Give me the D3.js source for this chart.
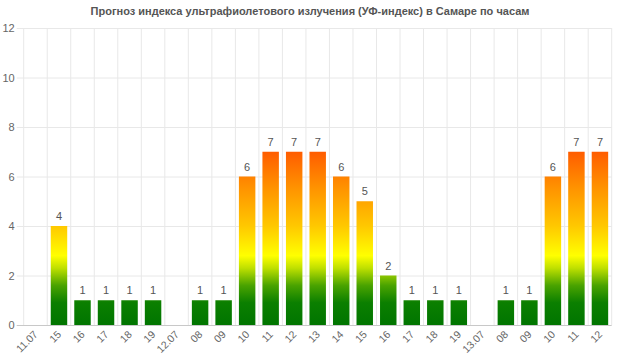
<!DOCTYPE html>
<html><head><meta charset="utf-8">
<script src="https://cdn.jsdelivr.net/npm/d3@7"></script>
<style>body{margin:0;background:#fff}svg{display:block}text{font-family:"Liberation Sans",Arial,sans-serif}</style>
</head><body><svg id="c" width="620" height="356"></svg>
<script>
const title = "Прогноз индекса ультрафиолетового излучения (УФ-индекс) в Самаре по часам";
const tickLabels = ["11.07","15","16","17","18","19","12.07","08","09","10","11","12","13","14","15","16","17","18","19","13.07","08","09","10","11","12"];
const uvValues = [null,4,1,1,1,1,null,1,1,6,7,7,7,6,5,2,1,1,1,null,1,1,6,7,7];
const yTicks = [0,2,4,6,8,10,12];
const gradStops = [[0,"#007500"],[0.9,"#0b7f00"],[1.6,"#4aa300"],[2.3,"#bfe000"],[2.8,"#ffff00"],[4,"#ffc800"],[5.5,"#ff9400"],[7,"#ff5c00"]];

const svg = d3.select("#c");
const L = 23.7, R = 611.7, T = 28, B = 325;
const x = d3.scaleBand().domain(d3.range(tickLabels.length)).range([L, R]).paddingInner(0.3).paddingOuter(0.15);
const y = d3.scaleLinear().domain([0, 12]).range([B, T]);

const defs = svg.append("defs");
const g = defs.append("linearGradient").attr("id","uv").attr("gradientUnits","userSpaceOnUse")
  .attr("x1",0).attr("x2",0).attr("y1",y(0)).attr("y2",y(7));
g.selectAll("stop").data(gradStops).join("stop")
  .attr("offset", d => d[0]/7).attr("stop-color", d => d[1]);

svg.append("text").attr("x",310).attr("y",15).attr("text-anchor","middle")
  .attr("font-size",11).attr("font-weight","bold").attr("fill","#555").text(title);

// vertical grid at band boundaries
const step = x.step();
const bounds = d3.range(tickLabels.length + 1).map(i => L + i * (R - L) / tickLabels.length);
svg.append("g").selectAll("line").data(bounds).join("line")
  .attr("x1", d => d).attr("x2", d => d).attr("y1", T).attr("y2", B)
  .attr("stroke", "#e8e8e8").attr("stroke-width", 1);

// horizontal grid + y labels
const yg = svg.append("g").attr("transform", `translate(${L},0)`)
  .call(d3.axisLeft(y).tickValues(yTicks).tickSize(-(R - L)).tickPadding(9).tickFormat(d3.format("d")));
yg.select(".domain").remove();
yg.selectAll(".tick line").attr("stroke","#e8e8e8").attr("x1", -7);
yg.selectAll(".tick text").attr("fill","#666").attr("font-size",11).attr("font-family","Liberation Sans, Arial, sans-serif");
yg.selectAll(".tick").filter(d => d === 0).select("line").attr("stroke","#c8c8c8");

// bars
const data = uvValues.map((v, i) => ({i, v})).filter(d => d.v !== null);
svg.append("g").selectAll("rect").data(data).join("rect")
  .attr("x", d => x(d.i)).attr("width", x.bandwidth())
  .attr("y", d => y(d.v)).attr("height", d => y(0) - y(d.v))
  .attr("fill", "url(#uv)");

svg.append("g").selectAll("text").data(data).join("text")
  .attr("x", d => x(d.i) + x.bandwidth()/2).attr("y", d => y(d.v) - 6)
  .attr("text-anchor","middle").attr("font-size",11).attr("fill","#555").text(d => d.v);

// x axis labels
const xg = svg.append("g").attr("transform", `translate(0,${B})`)
  .call(d3.axisBottom(x).tickSize(0).tickFormat(i => tickLabels[i]));
xg.select(".domain").remove();
xg.selectAll(".tick text").attr("fill","#666").attr("font-size",10.5)
  .attr("font-family","Liberation Sans, Arial, sans-serif")
  .attr("text-anchor","end").attr("dy",0).attr("y",0)
  .attr("transform","translate(3,10) rotate(-45)");
</script></body></html>
